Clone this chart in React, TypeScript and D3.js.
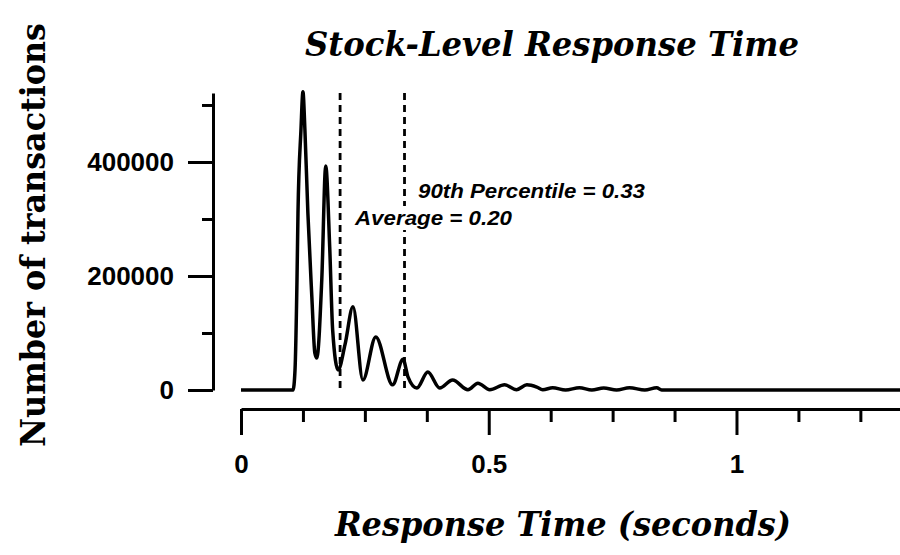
import * as d3 from "d3";
import { useEffect, useRef } from "react";

// response time (s) and number of transactions
const times = [
  0, 0.105, 0.109, 0.113, 0.115, 0.121, 0.125, 0.129, 0.135, 0.143, 0.149, 0.153,
  0.163, 0.171, 0.179, 0.185, 0.196, 0.21, 0.226, 0.246, 0.272, 0.306, 0.327,
  0.337, 0.355, 0.377, 0.401, 0.427, 0.458, 0.478, 0.502, 0.532, 0.556, 0.577,
  0.597, 0.609, 0.629, 0.655, 0.683, 0.708, 0.732, 0.758, 0.784, 0.815, 0.839,
  0.849, 1.33,
];
const counts = [
  0, 0, 35000, 193000, 310000, 456000, 523000, 456000, 310000, 163000, 65000, 56000,
  193000, 393000, 251000, 105000, 35000, 80000, 146000, 17500, 93000, 9000, 54000,
  23000, 3500, 31500, 3500, 17500, 500, 12000, 500, 9000, 500, 9000,
  5000, 500, 4000, 0, 4000, 0, 3500, 0, 4000, 0, 4000,
  0, 0,
];

const yMajorTicks = [0, 200000, 400000];
const yMinorTicks = [100000, 300000, 500000];
const xMajorTicks = [0, 0.5, 1];
const xMinorTicks = [0.125, 0.25, 0.375, 0.625, 0.75, 0.875, 1.125, 1.25];

const averageValue = 0.2;
const percentileValue = 0.33;

const W = 900;
const H = 555;

export default function App() {
  const svgRef = useRef<SVGSVGElement>(null);

  useEffect(() => {
    if (!svgRef.current) return;
    const svg = d3.select(svgRef.current);
    svg.selectAll("*").remove();

    const x = d3.scaleLinear().domain([0, 1.33]).range([241, 900]);
    const y = d3.scaleLinear().domain([0, 521000]).range([390, 93]);
    const sans = "'Liberation Sans', Arial, Helvetica, sans-serif";
    const serif = "'DejaVu Serif', serif";

    // title
    svg.append("text")
      .attr("x", 552).attr("y", 56)
      .attr("text-anchor", "middle")
      .attr("font-family", serif).attr("font-weight", "bold").attr("font-style", "italic")
      .attr("font-size", 33)
      .attr("textLength", 494).attr("lengthAdjust", "spacingAndGlyphs")
      .text("Stock-Level Response Time");

    // y axis
    const yAxisMajor = d3.axisLeft(y).tickValues(yMajorTicks).tickSize(25).tickSizeOuter(0)
      .tickPadding(14).tickFormat(d3.format("d"));
    const gy = svg.append("g").attr("transform", "translate(213,0)").call(yAxisMajor);
    gy.select(".domain").attr("stroke-width", 3);
    gy.selectAll(".tick line").attr("stroke-width", 3);
    gy.selectAll(".tick text")
      .attr("font-family", sans).attr("font-weight", "bold").attr("font-size", 26).attr("fill", "#000");
    const gyMinor = svg.append("g").attr("transform", "translate(213,0)")
      .call(d3.axisLeft(y).tickValues(yMinorTicks).tickSize(11).tickSizeOuter(0).tickFormat(() => ""));
    gyMinor.select(".domain").remove();
    gyMinor.selectAll(".tick line").attr("stroke-width", 3);

    // x axis
    const xAxisMajor = d3.axisBottom(x).tickValues(xMajorTicks).tickSize(26).tickSizeOuter(0)
      .tickPadding(20).tickFormat(d3.format("~g"));
    const gx = svg.append("g").attr("transform", "translate(0,409)").call(xAxisMajor);
    gx.select(".domain").attr("stroke-width", 3);
    gx.selectAll(".tick line").attr("stroke-width", 3);
    gx.selectAll(".tick text")
      .attr("font-family", sans).attr("font-weight", "bold").attr("font-size", 26).attr("fill", "#000");
    const gxMinor = svg.append("g").attr("transform", "translate(0,409)")
      .call(d3.axisBottom(x).tickValues(xMinorTicks).tickSize(13).tickSizeOuter(0).tickFormat(() => ""));
    gxMinor.select(".domain").remove();
    gxMinor.selectAll(".tick line").attr("stroke-width", 3);

    // axis titles
    svg.append("text")
      .attr("transform", `translate(45,235) rotate(-90)`)
      .attr("text-anchor", "middle")
      .attr("font-family", serif).attr("font-weight", "bold")
      .attr("font-size", 33)
      .attr("textLength", 424).attr("lengthAdjust", "spacingAndGlyphs")
      .text("Number of transactions");
    svg.append("text")
      .attr("x", 563).attr("y", 536)
      .attr("text-anchor", "middle")
      .attr("font-family", serif).attr("font-weight", "bold").attr("font-style", "italic")
      .attr("font-size", 34)
      .attr("textLength", 456).attr("lengthAdjust", "spacingAndGlyphs")
      .text("Response Time (seconds)");

    // dashed reference lines
    [averageValue, percentileValue].forEach((v) => {
      svg.append("line")
        .attr("x1", x(v)).attr("x2", x(v))
        .attr("y1", y(521000)).attr("y2", y(0) + 3)
        .attr("stroke", "#000").attr("stroke-width", 2.8)
        .attr("stroke-dasharray", "7,5");
    });

    // histogram line
    const pts = times.map((t, i) => [t, counts[i]] as [number, number]);
    const line = d3.line<[number, number]>()
      .x((d) => x(d[0])).y((d) => y(d[1]))
      .curve(d3.curveMonotoneX);
    svg.append("path")
      .datum(pts)
      .attr("fill", "none")
      .attr("stroke", "#000")
      .attr("stroke-width", 3.5)
      .attr("stroke-linejoin", "round")
      .attr("d", line);

    // annotations
    svg.append("text")
      .attr("x", 418).attr("y", 198)
      .attr("font-family", sans).attr("font-weight", "bold").attr("font-style", "italic")
      .attr("font-size", 20)
      .attr("textLength", 227).attr("lengthAdjust", "spacingAndGlyphs")
      .text("90th Percentile = 0.33");
    const aText = svg.append("text")
      .attr("x", 355).attr("y", 225)
      .attr("font-family", sans).attr("font-weight", "bold").attr("font-style", "italic")
      .attr("font-size", 20)
      .attr("textLength", 157).attr("lengthAdjust", "spacingAndGlyphs")
      .text("Average = 0.20");
    const bb = (aText.node() as SVGTextElement).getBBox();
    svg.append("rect")
      .attr("x", bb.x - 2).attr("y", bb.y - 1)
      .attr("width", bb.width + 4).attr("height", bb.height + 2)
      .attr("fill", "#fff");
    aText.raise();
  }, []);

  return (
    <svg
      ref={svgRef}
      width={W}
      height={H}
      style={{ position: "absolute", left: 0, top: 0, background: "#fff" }}
    />
  );
}
